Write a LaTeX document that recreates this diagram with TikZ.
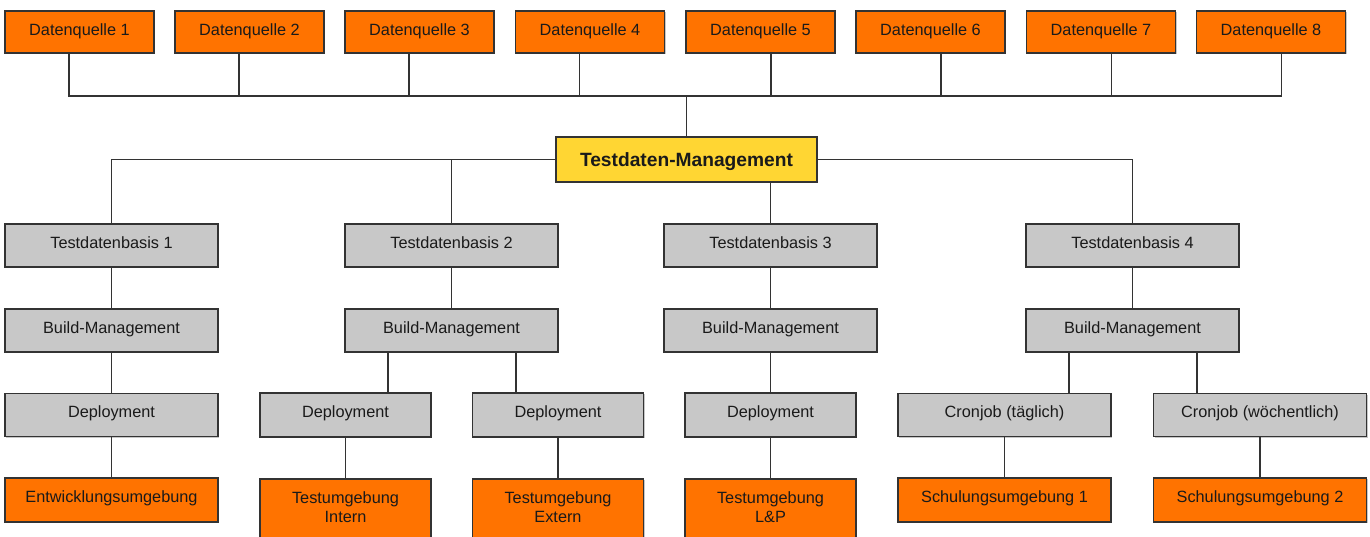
\documentclass[tikz,border=0pt]{standalone}
\usepackage{fontspec}
\setmainfont{Liberation Sans}
\usetikzlibrary{shadows}
\definecolor{orng}{HTML}{FF7300}
\definecolor{ylw}{HTML}{FFD633}
\definecolor{gry}{HTML}{C8C8C8}
\definecolor{edge}{HTML}{333333}
\definecolor{txt}{HTML}{1A1A1A}
\begin{document}
\begin{tikzpicture}[x=1pt,y=-1pt,
  box/.style={draw=edge, line width=1.6pt, inner sep=0pt, text=txt,
    font=\fontsize{16.3}{19}\selectfont,
    drop shadow={shadow xshift=1.2pt, shadow yshift=-1.2pt, opacity=0.22, fill=black}},
  src/.style={box, fill=orng, minimum width=149pt, minimum height=42pt, text height=12pt, text depth=4pt},
  mgmt/.style={box, fill=ylw, minimum width=261pt, minimum height=45pt,
    font=\bfseries\fontsize{19.2}{22}\selectfont, text height=14pt, text depth=0pt},
  wide/.style={box, fill=gry, minimum width=213pt, minimum height=43pt, text height=12pt, text depth=6.5pt},
  narrow/.style={box, fill=gry, minimum width=171pt, minimum height=44pt, text height=12pt, text depth=6.5pt},
  envw/.style={box, fill=orng, minimum width=213pt, minimum height=44pt, text height=12pt, text depth=6.5pt},
  envtall/.style={box, fill=orng, minimum width=171pt, minimum height=70pt, anchor=north},
  envlbl/.style={inner sep=0pt, text=txt, align=center, anchor=north,
    font=\fontsize{16.3}{19}\selectfont},
  conn/.style={draw=edge, line width=1.5pt}
]
\useasboundingbox[fill=white] (0,0) rectangle (1370,537);

% top sources
\node[src] (d1) at (79.5,32) {Datenquelle 1};
\node[src] (d2) at (249.5,32) {Datenquelle 2};
\node[src] (d3) at (419.5,32) {Datenquelle 3};
\node[src] (d4) at (590,32) {Datenquelle 4};
\node[src] (d5) at (760.5,32) {Datenquelle 5};
\node[src] (d6) at (930.5,32) {Datenquelle 6};
\node[src] (d7) at (1101,32) {Datenquelle 7};
\node[src] (d8) at (1271,32) {Datenquelle 8};

% management
\node[mgmt] (tm) at (686.5,159.5) {Testdaten-Management};

% Testdatenbasis
\node[wide] (tdb1) at (111.5,245.5) {Testdatenbasis 1};
\node[wide] (tdb2) at (451.5,245.5) {Testdatenbasis 2};
\node[wide] (tdb3) at (770.5,245.5) {Testdatenbasis 3};
\node[wide] (tdb4) at (1132.5,245.5) {Testdatenbasis 4};

% Build-Management
\node[wide] (bm1) at (111.5,330.5) {Build-Management};
\node[wide] (bm2) at (451.5,330.5) {Build-Management};
\node[wide] (bm3) at (770.5,330.5) {Build-Management};
\node[wide] (bm4) at (1132.5,330.5) {Build-Management};

% Deployment / Cronjob
\node[wide] (dep1) at (111.5,415) {Deployment};
\node[narrow] (dep2a) at (345.5,415) {Deployment};
\node[narrow] (dep2b) at (558,415) {Deployment};
\node[narrow] (dep3) at (770.5,415) {Deployment};
\node[wide] (cron1) at (1004.5,415) {Cronjob (täglich)};
\node[wide] (cron2) at (1260,415) {Cronjob (wöchentlich)};

% environments
\node[envw] (env1) at (111.5,500) {Entwicklungsumgebung};
\node[envtall] (env2) at (345.5,478) {};
\node[envlbl] (env2l) at ([yshift=-13pt]env2.north) {Testumgebung\\Intern};
\node[envtall] (env3) at (558,478) {};
\node[envlbl] (env3l) at ([yshift=-13pt]env3.north) {Testumgebung\\Extern};
\node[envtall] (env4) at (770.5,478) {};
\node[envlbl] (env4l) at ([yshift=-13pt]env4.north) {Testumgebung\\L\&P};
\node[envw] (env5) at (1004.5,500) {Schulungsumgebung 1};
\node[envw] (env6) at (1260,500) {Schulungsumgebung 2};

% bus from sources
\coordinate (bus) at (686.5,96);
\foreach \i in {1,2,3,4} {\draw[conn] ([xshift=-10.5pt]d\i.south) |- (bus);}
\foreach \i in {5,6,7,8} {\draw[conn] ([xshift=10.5pt]d\i.south) |- (bus);}
\draw[conn] (tm.north) -- (bus);

% management branches
\draw[conn] (tm.west) -| (tdb1.north);
\draw[conn] (tm.west -| tdb2.north) -- (tdb2.north);
\draw[conn] (tm.south -| tdb3.north) -- (tdb3.north);
\draw[conn] (tm.east) -| (tdb4.north);

% columns
\draw[conn] (tdb1) -- (bm1);
\draw[conn] (bm1) -- (dep1);
\draw[conn] (dep1) -- (env1);
\draw[conn] (tdb2) -- (bm2);
\draw[conn] (tdb3) -- (bm3);
\draw[conn] (bm3) -- (dep3);
\draw[conn] (dep3.south) -- (env4.north);
\draw[conn] (tdb4) -- (bm4);

\coordinate (c2a) at (388,0);
\coordinate (c2b) at (516,0);
\coordinate (c4a) at (1069,0);
\coordinate (c4b) at (1197,0);
\draw[conn] (bm2.south -| c2a) -- (dep2a.north -| c2a);
\draw[conn] (bm2.south -| c2b) -- (dep2b.north -| c2b);
\draw[conn] (bm4.south -| c4a) -- (cron1.north -| c4a);
\draw[conn] (bm4.south -| c4b) -- (cron2.north -| c4b);

\draw[conn] (dep2a.south) -- (env2.north);
\draw[conn] (dep2b.south) -- (env3.north);
\draw[conn] (cron1) -- (env5);
\draw[conn] (cron2) -- (env6);
\end{tikzpicture}
\end{document}
